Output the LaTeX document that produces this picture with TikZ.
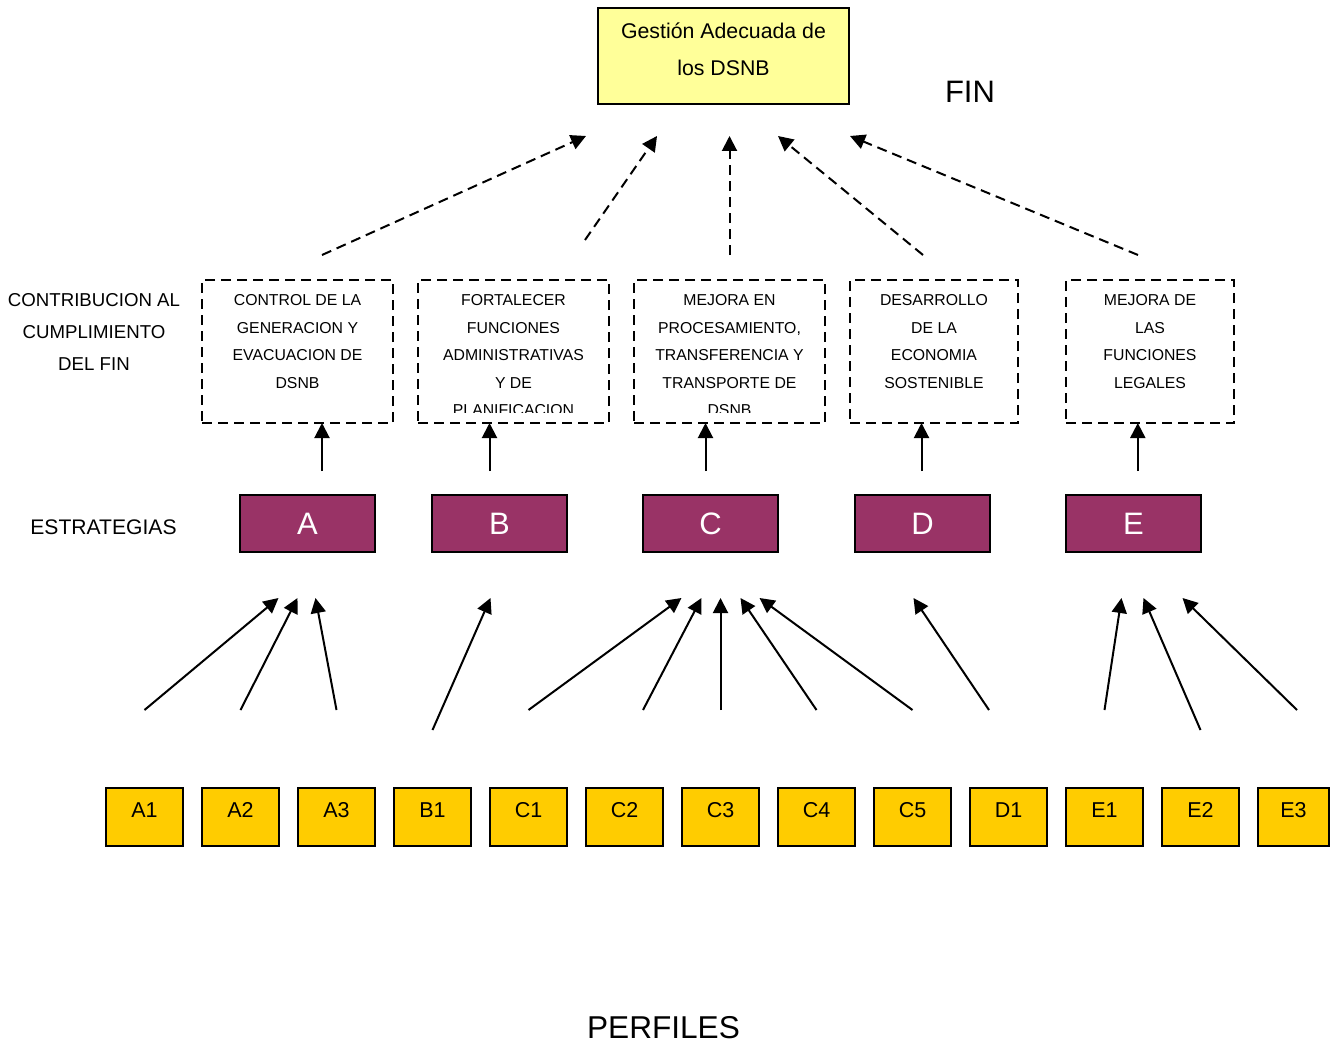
\documentclass[tikz,border=0pt]{standalone}
\usepackage{fontspec}
\setmainfont{Liberation Sans}
\usetikzlibrary{arrows.meta,calc}
\definecolor{paleyellow}{HTML}{FFFF99}
\definecolor{plum}{HTML}{993366}
\definecolor{gold}{HTML}{FFCC00}

\begin{document}
\begin{tikzpicture}[x=1pt,y=-1pt,
  fin/.style={draw,line width=2pt,fill=paleyellow,minimum width=251pt,minimum height=96pt,
              align=center,text depth=14pt,font=\fontsize{21.3}{37}\selectfont},
  obj/.style={draw,dash pattern=on 10pt off 6pt,line width=2pt,minimum height=143pt,
              anchor=north west,inner sep=0pt,outer sep=0pt},
  objtext/.style={anchor=north,align=center,inner sep=0pt,font=\fontsize{15.8}{27.5}\selectfont},
  strat/.style={draw,line width=2pt,fill=plum,text=white,minimum width=135pt,
                minimum height=57pt,font=\fontsize{31}{31}\selectfont},
  perfil/.style={draw,line width=2pt,fill=gold,minimum width=77pt,minimum height=58pt,
                 text depth=14pt,font=\fontsize{21.5}{21.5}\selectfont},
  lbl/.style={align=center,inner sep=0pt},
  up/.style={-{Triangle[length=15pt,width=15pt]},line width=2pt},
  dup/.style={up,dash pattern=on 10pt off 6pt}
]
  \useasboundingbox (0,0) rectangle (1330,1043);

  % fin
  \node[fin] (goal) at (723.5,56) {Gestión Adecuada de\\los DSNB};
  \node[lbl,font=\fontsize{31}{31}\selectfont] (finlbl) at (970,92) {FIN};

  % contribuciones (texto recortado dentro de cada caja)
  \node[lbl,font=\fontsize{18.65}{32}\selectfont] (contrib) at (94,331.5)
    {CONTRIBUCION AL\\CUMPLIMIENTO\\DEL FIN};
  \foreach \n/\x/\w/\txt in {
      1/202/191/{CONTROL DE LA\\GENERACION Y\\EVACUACION DE\\DSNB},
      2/418/191/{FORTALECER\\FUNCIONES\\ADMINISTRATIVAS\\Y DE\\PLANIFICACION},
      3/634/191/{MEJORA EN\\PROCESAMIENTO,\\TRANSFERENCIA Y\\TRANSPORTE DE\\DSNB},
      4/850/168/{DESARROLLO\\DE LA\\ECONOMIA\\SOSTENIBLE},
      5/1066/168/{MEJORA DE\\LAS\\FUNCIONES\\LEGALES}} {
    \node[obj,minimum width=\w pt] (c\n) at (\x,280) {};
    \begin{scope}
      \clip (c\n.north west) rectangle ($(c\n.south east)+(0,-11)$);
      \node[objtext] (t\n) at ($(c\n.north)+(0,14.5)$) {\txt};
    \end{scope}
  }
  \foreach \c/\dx/\dy/\tx in {1/24.5/25/-137.5, 2/71.5/40/-66.5, 3/0/25/6,
                              4/-11/25/54.5, 5/-12/25/126.5} {
    \coordinate (from\c) at ($(c\c.north)+(\dx,-\dy)$);
    \coordinate (to\c) at ($(goal.south)+(\tx,31)$);
    \draw[dup] (from\c) -- (to\c);
  }

  % estrategias
  \node[lbl,font=\fontsize{21.1}{21.1}\selectfont] (estr) at (103.5,527.5) {ESTRATEGIAS};
  \node[strat] (A) at (307.5,523.5) {A};
  \node[strat] (B) at (499.5,523.5) {B};
  \node[strat] (C) at (710.5,523.5) {C};
  \node[strat] (D) at (922.5,523.5) {D};
  \node[strat] (E) at (1133.5,523.5) {E};
  \foreach \s/\c/\dx in {A/1/14.5, B/2/-10, C/3/-5, D/4/-1, E/5/4.3} {
    \coordinate (in\s) at ($(\s.north)+(\dx,-23)$);
    \draw[up] (in\s) -- (in\s |- c\c.south);
  }

  % perfiles
  \foreach \p [count=\i from 0] in {A1,A2,A3,B1,C1,C2,C3,C4,C5,D1,E1,E2}
    \node[perfil] (\p) at ({144.5+96*\i},817) {\p};
  \node[perfil,minimum width=71pt] (E3) at (1293.5,817) {E3};
  \foreach \p/\s/\dx/\dy/\tx in {A1/A/0/77/-29, A2/A/0/77/-10, A3/A/0/77/8,
      B1/B/0/57/-9, C1/C/0/77/-29, C2/C/18.5/77/-9, C3/C/0/77/10, C4/C/0/77/30,
      C5/C/0/77/49, D1/D/-19.5/77/-9, E1/E/0/77/-12, E2/E/0/57/10, E3/E/3.5/77/49} {
    \coordinate (b\p) at ($(\p.north)+(\dx,-\dy)$);
    \coordinate (h\p) at ($(\s.south)+(\tx,45)$);
    \draw[up] (b\p) -- (h\p);
  }
  \node[lbl,font=\fontsize{31.6}{31.6}\selectfont] (perf) at (663.5,1028) {PERFILES};
\end{tikzpicture}
\end{document}
